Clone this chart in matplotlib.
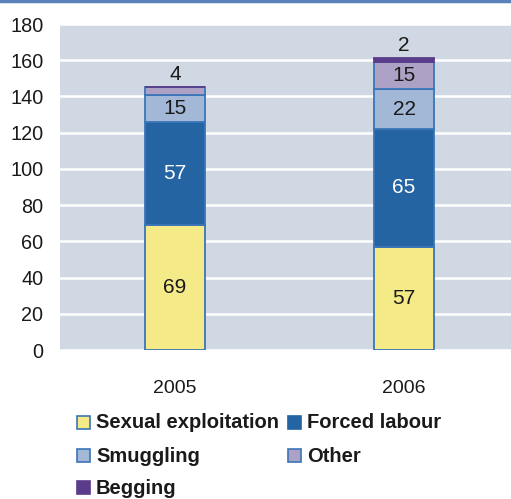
import matplotlib
matplotlib.use("Agg")
import matplotlib.pyplot as plt
from matplotlib.patches import Rectangle
from matplotlib.lines import Line2D

plt.rcParams['font.family'] = ['Liberation Sans', 'DejaVu Sans']

years = ["2005", "2006"]
categories = ["Sexual exploitation", "Forced labour", "Smuggling", "Other", "Begging"]
sexual = [69, 57]
forced = [57, 65]
smuggling = [15, 22]
other = [4, 15]
begging = [0, 2]
series = [sexual, forced, smuggling, other, begging]
colors = ["#F4EA88", "#2464A2", "#A3B8D6", "#ADA2C6", "#5B3C8A"]
text_colors = ["#1a1a1a", "white", "#1a1a1a", "#1a1a1a", "#1a1a1a"]
y_ticks = [0, 20, 40, 60, 80, 100, 120, 140, 160, 180]

W, H = 511, 499
fig = plt.figure(figsize=(W / 100, H / 100), dpi=100)
ax = fig.add_axes([60 / W, 1 - 350 / H, 1 - 60 / W, (350 - 24) / H])
ax.set_facecolor("#D0D8E3")

x = list(range(len(years)))
bottoms = [0] * len(years)
edge = "#3A75B8"
for k, (vals, col, tc) in enumerate(zip(series, colors, text_colors)):
    ec = col if k == 4 else edge
    ax.bar(x, vals, bottom=bottoms, width=0.26, color=col,
           edgecolor=ec, linewidth=1.3, zorder=3)
    for i, (v, b) in enumerate(zip(vals, bottoms)):
        if v <= 0:
            continue
        if v < 8:
            ax.text(x[i], b + v + 1.8, str(v), ha="center", va="bottom",
                    fontsize=15, color="#1a1a1a", zorder=4)
        else:
            ax.text(x[i], b + v / 2, str(v), ha="center", va="center",
                    fontsize=15, color=tc, zorder=4)
    bottoms = [b + v for b, v in zip(bottoms, vals)]

ax.set_ylim(0, 180)
ax.set_xlim(-0.502, 1.467)
ax.set_yticks(y_ticks)
ax.set_yticklabels([str(t) for t in y_ticks], fontsize=14.3, color="#1a1a1a")
ax.set_xticks(x)
ax.set_xticklabels(years, fontsize=14, color="#1a1a1a")
ax.tick_params(axis="both", length=0)
ax.tick_params(axis="x", pad=21.5)
ax.tick_params(axis="y", pad=12)
ax.yaxis.grid(True, color="white", linewidth=1.8, zorder=1)
ax.set_axisbelow(True)
for s in ax.spines.values():
    s.set_visible(False)

# legend: two columns of swatches with bold labels
col_x = [77, 288]
row_y = [422, 455, 487]
sw = 13
for k, name in enumerate(categories):
    cx = col_x[k % 2]
    cy = row_y[k // 2]
    ec = colors[k] if k in (1, 4) else edge
    fig.add_artist(Rectangle((cx / W, 1 - (cy + sw / 2) / H), sw / W, sw / H,
                             facecolor=colors[k], edgecolor=ec, linewidth=1.2,
                             transform=fig.transFigure))
    fig.text((cx + sw + 6) / W, 1 - (cy - 1) / H, name, ha="left",
             va="center_baseline", fontsize=14.5, fontweight="bold",
             color="#1a1a1a")

# rule along the top edge
fig.add_artist(Line2D([0, 1], [1 - 1 / H, 1 - 1 / H], color="#5A82B8",
                      linewidth=2.5, transform=fig.transFigure))

fig.savefig("out.png", dpi=100)
